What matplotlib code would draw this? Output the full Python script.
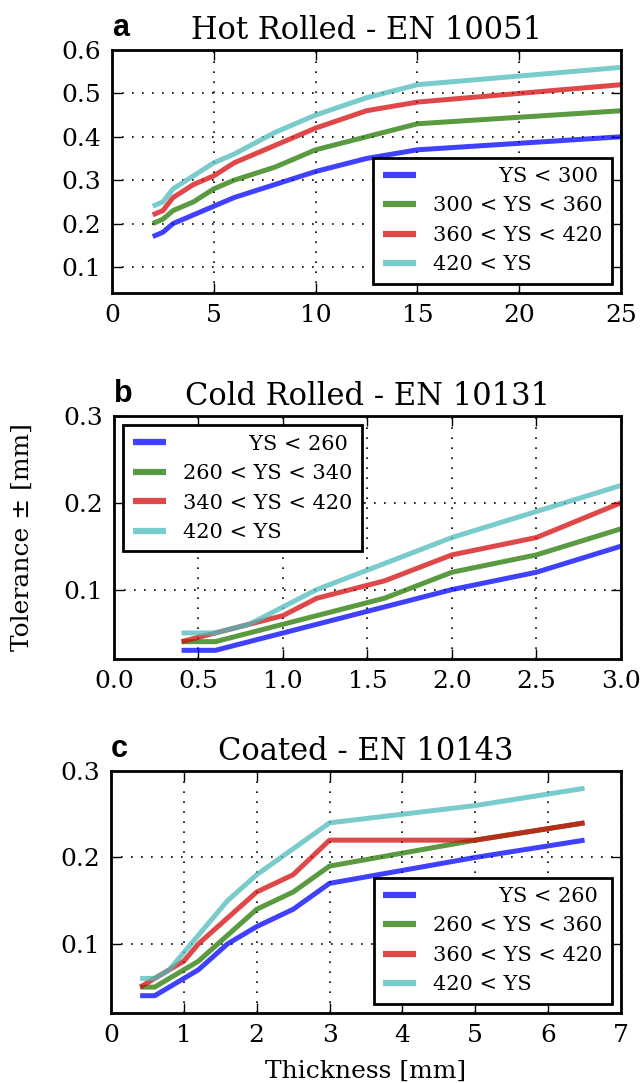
import numpy as np
import matplotlib
matplotlib.use("Agg")
import matplotlib.pyplot as plt

plt.rcParams['font.family'] = ['DejaVu Serif']

# a: Hot rolled - EN 10051
hot_x = [2, 2.5, 3, 4, 5, 6, 8, 10, 12.5, 15, 25]
hot_ys300 = [0.17, 0.18, 0.20, 0.22, 0.24, 0.26, 0.29, 0.32, 0.35, 0.37, 0.40]
hot_ys360 = [0.20, 0.21, 0.23, 0.25, 0.28, 0.30, 0.33, 0.37, 0.40, 0.43, 0.46]
hot_ys420 = [0.22, 0.23, 0.26, 0.29, 0.31, 0.34, 0.38, 0.42, 0.46, 0.48, 0.52]
hot_ysmax = [0.24, 0.25, 0.28, 0.31, 0.34, 0.36, 0.41, 0.45, 0.49, 0.52, 0.56]
hot_labels = ["YS < 300", "300 < YS < 360", "360 < YS < 420", "420 < YS"]

# b: Cold rolled - EN 10131
cold_x = [0.4, 0.6, 0.8, 1.0, 1.2, 1.6, 2.0, 2.5, 3.0]
cold_ys260 = [0.03, 0.03, 0.04, 0.05, 0.06, 0.08, 0.10, 0.12, 0.15]
cold_ys340 = [0.04, 0.04, 0.05, 0.06, 0.07, 0.09, 0.12, 0.14, 0.17]
cold_ys420 = [0.04, 0.05, 0.06, 0.07, 0.09, 0.11, 0.14, 0.16, 0.20]
cold_ysmax = [0.05, 0.05, 0.06, 0.08, 0.10, 0.13, 0.16, 0.19, 0.22]
cold_labels = ["YS < 260", "260 < YS < 340", "340 < YS < 420", "420 < YS"]

# c: Coated - EN 10143
coat_x = [0.4, 0.6, 0.8, 1.0, 1.2, 1.6, 2.0, 2.5, 3.0, 5.0, 6.5]
coat_ys260 = [0.04, 0.04, 0.05, 0.06, 0.07, 0.10, 0.12, 0.14, 0.17, 0.20, 0.22]
coat_ys360 = [0.05, 0.05, 0.06, 0.07, 0.08, 0.11, 0.14, 0.16, 0.19, 0.22, 0.24]
coat_ys420 = [0.05, 0.06, 0.07, 0.08, 0.10, 0.13, 0.16, 0.18, 0.22, 0.22, 0.24]
coat_ysmax = [0.06, 0.06, 0.07, 0.09, 0.11, 0.15, 0.18, 0.21, 0.24, 0.26, 0.28]
coat_labels = ["YS < 260", "260 < YS < 360", "360 < YS < 420", "420 < YS"]

colors = ['#0000ff', '#237800', '#d50b0b', '#4dbbbb']

W, H = 644, 1083
fig = plt.figure(figsize=(W / 100, H / 100), dpi=100)


def make_ax(l, r, t, b):
    return fig.add_axes([l / W, 1 - b / H, (r - l) / W, (b - t) / H])


def panel(ax, x, series, labels, title, letter, xlim, ylim, xticks, yticks, loc):
    for y, lab, c in zip(series, labels, colors):
        ax.plot(x, y, color=c, lw=3.6, alpha=0.75, label=lab,
                solid_capstyle='butt')
    ax.set_xlim(*xlim)
    ax.set_ylim(*ylim)
    ax.set_xticks(xticks)
    ax.set_yticks(yticks)
    ax.grid(True, color='k', linestyle=':', linewidth=1.2, dashes=(1, 5))
    ax.tick_params(direction='in', top=True, right=True, length=7, width=1,
                   labelsize=18, pad=8)
    for s in ax.spines.values():
        s.set_linewidth(2)
    ax.set_title(title, fontsize=22, pad=8)
    ax.text(0, 1.03, letter, transform=ax.transAxes, ha='left', va='bottom',
            fontsize=22, fontweight='bold', family='Liberation Sans')
    leg = ax.legend(loc=loc, fontsize=15, handlelength=1.6, handletextpad=0.8,
                    labelspacing=0.5, borderpad=0.45, borderaxespad=0.45,
                    fancybox=False, framealpha=1)
    leg.get_frame().set_edgecolor('k')
    leg.get_frame().set_linewidth(2)
    # pad the first label with spaces so it lines up on the right
    texts = leg.get_texts()
    texts[0].set_text(' ' * 10 + labels[0])
    for line in leg.get_lines():
        line.set_linewidth(4.5)


ax1 = make_ax(112, 621, 50, 293)
panel(ax1, hot_x, [hot_ys300, hot_ys360, hot_ys420, hot_ysmax], hot_labels,
      "Hot Rolled - EN 10051", "a", (0, 25), (0.04, 0.6),
      [0, 5, 10, 15, 20, 25], [0.1, 0.2, 0.3, 0.4, 0.5, 0.6], 'lower right')
ax1.set_xticklabels(['0', '5', '10', '15', '20', '25'])

ax2 = make_ax(114, 621, 416, 659)
panel(ax2, cold_x, [cold_ys260, cold_ys340, cold_ys420, cold_ysmax], cold_labels,
      "Cold Rolled - EN 10131", "b", (0, 3), (0.02, 0.3),
      [0, 0.5, 1.0, 1.5, 2.0, 2.5, 3.0], [0.1, 0.2, 0.3], 'upper left')
ax2.set_xticklabels(['0.0', '0.5', '1.0', '1.5', '2.0', '2.5', '3.0'])

ax3 = make_ax(111, 621, 771, 1013)
panel(ax3, coat_x, [coat_ys260, coat_ys360, coat_ys420, coat_ysmax], coat_labels,
      "Coated - EN 10143", "c", (0, 7), (0.02, 0.3),
      [0, 1, 2, 3, 4, 5, 6, 7], [0.1, 0.2, 0.3], 'lower right')
ax3.set_xlabel("Thickness [mm]", fontsize=18, labelpad=9)

fig.text(22 / W, 1 - 537 / H, "Tolerance ± [mm]", rotation=90,
         ha='center', va='center', fontsize=18)

fig.savefig("out.png", dpi=100)
